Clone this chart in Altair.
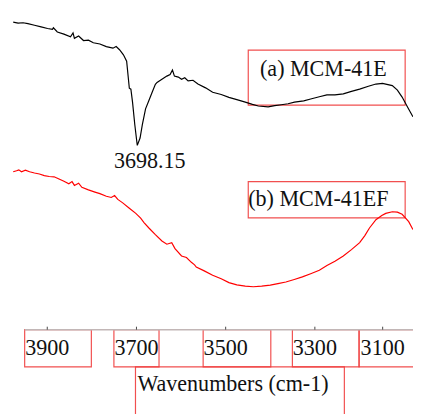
import altair as alt
import pandas as pd

# ---------------- data ----------------
series_names = ["(a) MCM-41E", "(b) MCM-41EF"]

wn_a = [3976.3, 3965.3, 3954.3, 3943.3, 3928.6, 3913.8, 3899.3, 3888.4, 3886.2, 3877.4,
        3862.6, 3847.9, 3842.2, 3839.1, 3829.7, 3818.7, 3807.7, 3796.7, 3782.0, 3767.5,
        3752.7, 3745.5, 3738.0, 3729.2, 3722.0, 3716.0, 3712.5, 3708.8, 3703.7, 3699.3,
        3698.15, 3691.9, 3686.8, 3679.6, 3672.1, 3664.8, 3657.6, 3653.8, 3642.9, 3631.9,
        3624.6, 3619.3, 3614.9, 3606.1, 3598.9, 3591.7, 3584.2, 3573.2, 3562.2, 3545.0,
        3529.2, 3510.0, 3492.7, 3475.0, 3456.0, 3440.0, 3426.8, 3404.8, 3390.0, 3375.3,
        3360.0, 3345.7, 3325.0, 3309.4, 3290.0, 3273.0, 3255.0, 3236.3, 3218.0, 3199.6,
        3180.0, 3163.1, 3148.4, 3126.4, 3115.0, 3104.4, 3092.0, 3080.2]
tr_a = [96.8, 96.5, 96.6, 96.3, 95.8, 95.3, 94.8, 94.5, 95.0, 93.7,
        93.0, 92.2, 93.4, 91.7, 92.4, 91.0, 91.1, 90.3, 89.9, 89.1,
        88.6, 89.1, 88.1, 86.5, 84.5, 76.0, 75.7, 71.6, 64.5, 59.3,
        58.0, 60.3, 64.5, 69.5, 72.1, 74.7, 77.2, 77.8, 78.8, 79.8,
        80.3, 81.7, 79.8, 79.5, 78.8, 79.3, 78.3, 78.5, 77.3, 76.1,
        74.7, 74.0, 73.1, 72.4, 71.6, 70.9, 70.4, 70.1, 70.5, 70.8,
        71.1, 71.6, 72.0, 72.6, 73.3, 73.9, 73.9, 74.2, 75.0, 75.7,
        76.6, 77.3, 77.5, 76.8, 75.4, 73.2, 70.0, 67.0]

wn_b = [3976.3, 3968.8, 3963.7, 3957.8, 3949.0, 3939.6, 3928.6, 3917.6, 3906.6, 3895.6,
        3884.6, 3873.6, 3862.6, 3851.6, 3844.4, 3839.1, 3829.7, 3822.4, 3807.7, 3793.0,
        3782.0, 3767.5, 3756.5, 3749.0, 3741.8, 3730.8, 3716.0, 3701.5, 3690.6, 3683.1,
        3672.1, 3657.6, 3642.9, 3631.9, 3620.9, 3613.6, 3598.9, 3587.9, 3576.9, 3569.7,
        3565.9, 3548.0, 3529.2, 3510.0, 3492.7, 3475.0, 3456.0, 3438.0, 3419.3, 3400.0,
        3382.9, 3365.0, 3346.2, 3328.0, 3309.4, 3290.0, 3273.0, 3255.0, 3236.3, 3218.0,
        3199.6, 3188.0, 3177.6, 3163.1, 3150.0, 3141.1, 3126.4, 3115.0, 3104.4, 3089.6,
        3080.2]
tr_b = [49.7, 50.0, 50.3, 49.7, 50.2, 49.7, 49.3, 49.0, 48.5, 48.2,
        48.1, 47.4, 46.7, 45.9, 46.6, 45.4, 46.1, 44.8, 44.0, 43.3,
        42.8, 42.0, 41.6, 42.2, 41.0, 39.9, 38.2, 36.6, 35.1, 33.7,
        32.0, 29.9, 27.9, 26.9, 27.4, 25.5, 23.2, 22.7, 21.2, 20.4,
        19.7, 18.5, 17.1, 16.0, 14.8, 14.1, 13.7, 13.5, 13.7, 14.0,
        14.5, 15.0, 15.8, 16.6, 17.6, 18.7, 20.2, 21.5, 23.2, 25.2,
        27.4, 29.6, 32.0, 34.6, 35.9, 36.6, 37.1, 37.0, 36.3, 34.0,
        31.5]

tick_values = [3900, 3700, 3500, 3300, 3148]
tick_labels = ["3900", "3700", "3500", "3300", "3100"]
peak_label = "3698.15"
axis_title = "Wavenumbers (cm-1)"

# ---------------- layout / style ----------------
FONT = "Liberation Serif"
FS = 22.5
W, H = 413, 324
BOX_COLOR = "#f03c3c"

df = pd.concat([
    pd.DataFrame({"wn": wn_a, "t": tr_a, "s": series_names[0]}),
    pd.DataFrame({"wn": wn_b, "t": tr_b, "s": series_names[1]}),
], ignore_index=True)
ticks_df = pd.DataFrame({"wn": tick_values, "label": tick_labels})

x_scale = alt.Scale(domain=[3080, 3988], reverse=True, nice=False, zero=False)
y_scale = alt.Scale(domain=[0, 100], nice=False, zero=False)

one = alt.Data(values=[{}])

# red annotation boxes (pixel layout)
boxes = [
    (17, 85, 324, 362), (108, 154, 324, 362), (199, 268, 324, 362),
    (290, 358, 324, 362), (358, 420, 324, 362),
    (130, 343, 362, 412),
    (245, 405, 39, 95), (245, 405, 173, 210),
]
box_layers = [
    alt.Chart(one).mark_rect(fillOpacity=0, stroke=BOX_COLOR, strokeWidth=1.2, strokeOpacity=0.9).encode(
        x=alt.value(b[0]), x2=alt.value(b[1]), y=alt.value(b[2]), y2=alt.value(b[3]))
    for b in boxes
]

domain_line = alt.Chart(one).mark_rule(color="#c2b6b6", strokeWidth=1.5).encode(
    x=alt.value(17), x2=alt.value(420), y=alt.value(324))

ticks = alt.Chart(ticks_df).mark_rule(color="#444", strokeWidth=1).encode(
    x=alt.X("wn:Q", scale=x_scale, axis=None),
    y=alt.value(321), y2=alt.value(324))

tick_text = alt.Chart(ticks_df).mark_text(font=FONT, fontSize=FS, color="#111", align="center",
                                           baseline="alphabetic").encode(
    x=alt.X("wn:Q", scale=x_scale, axis=None),
    y=alt.value(350),
    text="label:N")

lines = alt.Chart(df).mark_line(strokeWidth=1.2, clip=True).encode(
    x=alt.X("wn:Q", scale=x_scale, axis=None),
    y=alt.Y("t:Q", scale=y_scale, axis=None),
    color=alt.Color("s:N", scale=alt.Scale(domain=series_names, range=["#000000", "#ff0000"]),
                    legend=None),
    detail="s:N",
)

def txt(text, x, y):
    return alt.Chart(one).mark_text(font=FONT, fontSize=FS, color="#111", align="left",
                                    baseline="alphabetic", text=text).encode(
        x=alt.value(x), y=alt.value(y))

texts = [txt(peak_label, 108, 159), txt(series_names[0], 257, 65),
         txt(series_names[1], 245, 198), txt(axis_title, 132, 387)]

chart = alt.layer(*box_layers, domain_line, ticks, lines, tick_text, *texts).properties(
    width=W, height=H,
    background="white",
    autosize=alt.AutoSizeParams(type="none"),
    padding={"left": 0, "top": 0, "right": 0, "bottom": 82},
).configure_view(stroke=None)

chart.save("out.html", embed_options={"renderer": "svg", "actions": False})
